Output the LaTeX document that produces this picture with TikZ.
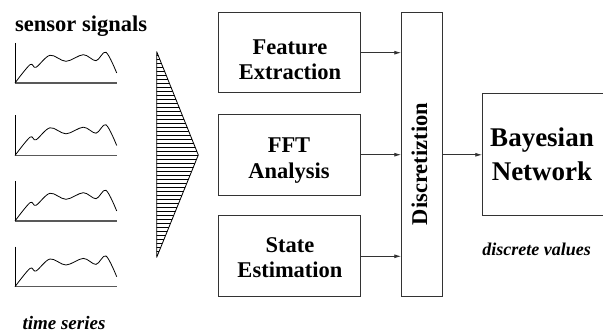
\documentclass[tikz,border=0pt]{standalone}
\usepackage{fontspec}
\setmainfont{Liberation Serif}
\usetikzlibrary{arrows.meta}
\begin{document}
\begin{tikzpicture}[x=1pt,y=-1pt,
  box/.style={draw=black!80, line width=0.9pt, minimum width=142.4pt, inner sep=0pt},
  boxtext/.style={font=\fontsize{22.5}{25.5}\selectfont\bfseries, align=center, inner sep=0pt},
  bigtext/.style={font=\fontsize{27}{34.5}\selectfont\bfseries, align=center, inner sep=0pt},
  note/.style={font=\fontsize{18}{20}\selectfont\bfseries\itshape, inner sep=0pt},
  flow/.style={draw=black!80, line width=0.9pt, -{Latex[length=7pt,width=4pt]}},
  yaxis/.style={draw=black, line width=0.8pt},
  xaxis/.style={draw=black!65, line width=1.2pt},
  signal/.style={draw=black, line width=0.8pt},
  hatch/.style={draw=black, line width=0.6pt}]
\clip (0,0) rectangle (603,336);
\fill[white] (0,0) rectangle (603,336);

% title over the signal plots
\node[font=\fontsize{22.5}{25}\selectfont\bfseries, anchor=base west, inner sep=0pt] (title) at (15,31.7) {sensor signals};

% four sensor signal plots
\foreach \b in {83,155.5,221,286.7} {
  \draw[yaxis] (15,\b-40) -- (15,\b);
  \draw[xaxis] (15,\b) -- (116.7,\b);
  \draw[signal] plot[smooth, tension=0.55] coordinates {
    (15,\b) (30,\b-18.3) (36,\b-15.7) (50,\b-27.7) (66,\b-21.7)
    (83.3,\b-28.3) (96,\b-22.3) (106,\b-30.7) (116.7,\b-10)};
}
\node[note, font=\fontsize{19}{21}\selectfont\bfseries\itshape, anchor=base] (ts) at (64,330) {time series};

% hatched funnel
\coordinate (t1) at (156.7,51.7);
\coordinate (tA) at (198.3,155);
\coordinate (t2) at (156.7,257.3);
\begin{scope}
  \clip (t1) -- (tA) -- (t2) -- cycle;
  \foreach \y in {55.5,59.5,...,256} \draw[hatch] (150,\y) -- (205,\y);
\end{scope}
\draw[black, line width=0.8pt, line join=round] (t1) -- (tA) -- (t2) -- cycle;

% processing blocks
\node[box, minimum height=80pt] (fe) at (289.5,52.7) {};
\node[boxtext] (fetext) at (290,59.8) {Feature\\Extraction};
\node[box, minimum height=80.7pt] (fft) at (289.5,154.7) {};
\node[boxtext] (ffttext) at (289,160.8) {FFT\\Analysis};
\node[box, minimum height=80.7pt] (se) at (289.5,256.3) {};
\node[boxtext] (setext) at (290,257.5) {State\\Estimation};

% discretization bar
\node[draw=black!80, line width=0.9pt, minimum width=40.6pt, minimum height=284.4pt, inner sep=0pt] (disc) at (422,154.5) {};
\node[boxtext, rotate=90] (disctext) at (419.5,164) {Discretiztion};

% Bayesian network block
\node[draw=black!80, line width=0.9pt, minimum width=124pt, minimum height=121.7pt, inner sep=0pt] (bn) at (544.7,154.8) {};
\node[bigtext] (bntext) at (542,154.2) {Bayesian\\Network};
\node[note, anchor=base] (dv) at (536.7,256) {discrete values};

% connectors
\draw[flow] (fe.east) -- (fe.east -| disc.west);
\draw[flow] (fft.east) -- (fft.east -| disc.west);
\draw[flow] (se.east) -- (se.east -| disc.west);
\draw[flow] (disc.east |- bn.west) -- (bn.west);
\end{tikzpicture}
\end{document}
